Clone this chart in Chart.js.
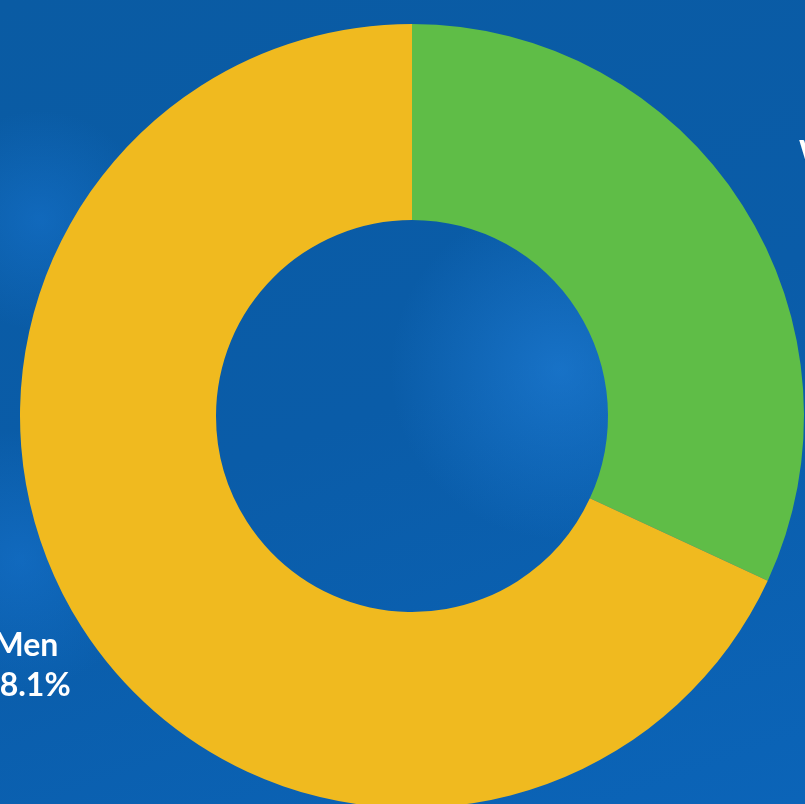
<!DOCTYPE html>
<html>
<head>
<meta charset="utf-8">
<script src="https://cdn.jsdelivr.net/npm/chart.js@4.4.0/dist/chart.umd.min.js"></script>
<style>
  html, body { margin: 0; padding: 0; width: 805px; height: 804px; overflow: hidden; }
  body {
    position: relative;
    background:
      radial-gradient(circle at 560px 370px, rgba(40,140,235,0.45) 0, rgba(40,140,235,0) 170px),
      radial-gradient(circle at 40px 220px, rgba(30,130,230,0.35) 0, rgba(30,130,230,0) 110px),
      radial-gradient(circle at 20px 560px, rgba(30,130,230,0.35) 0, rgba(30,130,230,0) 130px),
      linear-gradient(160deg, #0a5ba3 0%, #0a5ca8 50%, #0b64b8 100%);
  }
  #wrap { position: absolute; left: -100px; top: 0; width: 1000px; height: 850px; }
</style>
</head>
<body>
<div id="wrap"><canvas id="donut"></canvas></div>
<script>
const categories = ['Women', 'Men'];
const shares = [31.9, 68.1];
const sliceColors = ['#5fbd47', '#f0ba1f'];

const sliceLabels = {
  id: 'sliceLabels',
  afterDraw(chart) {
    const ctx = chart.ctx;
    const arcs = chart.getDatasetMeta(0).data;
    // label block centres, relative to the doughnut centre (in outer radii)
    const offsets = [[1.13, -0.62], [-0.985, 0.635]];
    ctx.save();
    ctx.fillStyle = '#ffffff';
    ctx.font = 'bold 32px Lato, "Open Sans", sans-serif';
    ctx.textAlign = 'center';
    ctx.textBaseline = 'alphabetic';
    arcs.forEach((arc, i) => {
      const r = arc.outerRadius;
      const x = arc.x + offsets[i][0] * r;
      const y = arc.y + offsets[i][1] * r;
      ctx.fillText(categories[i], x, y - 9);
      ctx.fillText(shares[i].toFixed(1) + '%', x, y + 31);
    });
    ctx.restore();
  }
};

new Chart(document.getElementById('donut').getContext('2d'), {
  type: 'doughnut',
  data: {
    labels: categories,
    datasets: [{
      data: shares,
      backgroundColor: sliceColors,
      borderWidth: 0
    }]
  },
  options: {
    responsive: true,
    maintainAspectRatio: false,
    animation: false,
    cutout: '50%',
    layout: { padding: { left: 120, right: 96, top: 24, bottom: 42 } },
    plugins: {
      legend: { display: false },
      tooltip: { enabled: false }
    }
  },
  plugins: [sliceLabels]
});
</script>
</body>
</html>
